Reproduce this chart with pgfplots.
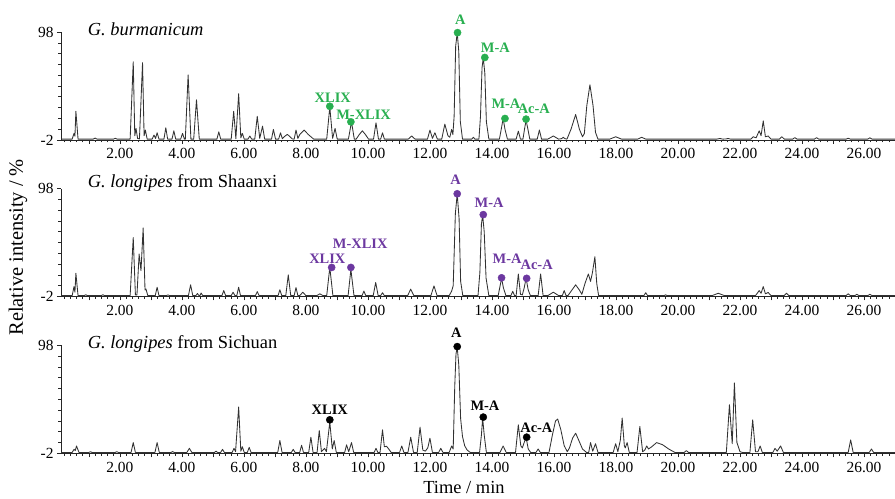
\documentclass[border=0pt]{standalone}
\usepackage{fontspec}
\setmainfont{Liberation Serif}
\usepackage{pgfplots}
\pgfplotsset{compat=1.18}
\definecolor{gcol}{RGB}{40,175,80}
\definecolor{pcol}{RGB}{108,56,160}
\definecolor{lcol}{RGB}{50,50,50}

\pgfplotsset{
  chrom/.style={
    anchor=south west, scale only axis, width=834bp, height=108bp,
    xmin=0.1, xmax=27, ymin=-2, ymax=98,
    axis x line*=bottom, axis y line*=left,
    axis line style={-, black!85, line width=0.8bp},
    tick align=outside,
    major tick length=4bp, minor tick length=2.5bp,
    tick style={black!85, line width=0.6bp},
    ytick={-2,98}, yticklabels={-2,98},
    minor ytick={8,18,28,38,48,58,68,78,88},
    xtick={1,2,3,4,5,6,7,8,9,10,11,12,13,14,15,16,17,18,19,20,21,22,23,24,25,26},
    xticklabels={,2.00,,4.00,,6.00,,8.00,,10.00,,12.00,,14.00,,16.00,,18.00,,20.00,,22.00,,24.00,,26.00},
    minor xtick={0.2,0.4,...,26.9},
    ticklabel style={font=\fontsize{15.5}{15.5}\selectfont},
    xticklabel style={yshift=-1bp},
    clip=false,
  },
  trace/.style={lcol, line width=0.85bp, line join=round},
  lab/.style={only marks, mark=*, mark size=3.6bp, color=#1,
    point meta=explicit symbolic, nodes near coords,
    visualization depends on={value \thisrow{dx}\as\dx},
    visualization depends on={value \thisrow{dy}\as\dy},
    every node near coord/.append style={anchor=south, inner sep=0pt,
      xshift=\dx bp, yshift=\dy bp, text=#1,
      font=\fontsize{14.5}{14.5}\bfseries\selectfont}},
}

\begin{document}
\begin{tikzpicture}

% ---------- Panel 1: G. burmanicum ----------
\begin{axis}[chrom, at={(0bp,313.3bp)}]
\addplot[trace] coordinates {
(0.1,-1.2)
(0.46,-1.2)(0.52,4.1)(0.55,1.5)(0.58,24.6)(0.65,-1.2)
(1.14,-1.2)(1.2,-0.2)(1.26,-1.2)
(1.79,-1.2)(1.85,-0.4)(1.91,-1.2)
(2.33,-1.2)(2.43,70.5)(2.48,2)(2.52,8.7)(2.57,-0.5)(2.63,-1.0)(2.73,69.6)(2.78,2)(2.82,7.2)(2.88,-1.2)
(3.04,-1.2)(3.10,2.6)(3.15,-0.6)(3.20,4.7)(3.26,-1.2)
(3.42,-1.2)(3.48,9.3)(3.54,-1.2)
(3.68,-1.2)(3.74,6.5)(3.80,-1.2)
(3.96,-1.2)(4.02,4.1)(4.08,-1.2)
(4.11,-1.2)(4.20,58.3)(4.29,-1.2)
(4.38,-1.2)(4.47,35.3)(4.56,-1.2)
(5.13,-1.2)(5.19,5.6)(5.25,-1.2)
(5.59,-1.2)(5.67,24.6)(5.74,-0.8)(5.83,40.8)(5.90,0)(5.95,4.1)(6.01,-1.2)
(6.13,-1.2)(6.19,1.7)(6.25,-1.2)
(6.35,-1.2)(6.43,20)(6.51,-0.5)(6.60,10.8)(6.67,-1.2)
(6.89,-1.2)(6.95,7.8)(7.02,-1.2)
(7.12,-1.2)(7.18,4.7)(7.24,-0.8)(7.32,1.5)(7.40,3.2)(7.48,1.2)(7.56,-1.0)
(7.62,-1.2)(7.68,7.2)(7.74,-0.5)(7.80,3)(7.94,7.2)(8.08,3)(8.25,-1.2)
(8.67,-1.2)(8.77,28.6)(8.86,-0.5)(8.94,8.7)(9.01,-1.2)
(9.37,-1.2)(9.47,14.8)(9.56,-1.2)
(9.62,-1.2)(9.72,3)(9.82,6.5)(9.92,3)(10.02,-1.2)
(10.18,-1.2)(10.26,13.9)(10.34,-1.2)
(10.41,-1.2)(10.47,4.7)(10.53,-1.2)
(11.30,-1.2)(11.41,1.7)(11.52,-1.2)
(11.92,-1.2)(12.0,7.2)(12.08,-0.5)(12.16,4.7)(12.24,-1.2)
(12.38,-1.2)(12.48,12.7)(12.58,2)(12.64,0.5)(12.70,7.8)(12.74,3)
(12.78,20)(12.83,85)(12.88,97.4)(12.93,80)(12.98,15)(13.05,-1.2)
(13.35,-1.2)(13.40,0.5)(13.45,-1.2)
(13.58,-1.2)(13.63,20)(13.68,65)(13.72,73.9)(13.77,60)(13.82,15)(13.90,-1.2)
(14.24,-1.2)(14.30,8)(14.36,17.9)(14.42,8)(14.50,-1.2)
(14.78,-1.2)(14.85,6.2)(14.92,-1.2)
(15.00,-1.2)(15.05,8)(15.10,16.3)(15.16,8)(15.22,-1.2)
(15.46,-1.2)(15.53,7.2)(15.60,-1.2)
(15.80,-1.2)(15.98,1.7)(16.15,-1.2)
(16.25,-0.7)(16.30,0.5)(16.35,-0.7)
(16.42,-1.2)(16.55,8)(16.70,21.6)(16.82,8)(16.92,1.0)(16.98,4)(17.06,30)(17.16,49.1)(17.26,30)(17.34,5)(17.42,-1.2)
(17.80,-1.2)(17.99,1.0)(18.18,-1.2)
(18.70,-1.2)(18.83,0.5)(18.96,-1.2)
(21.25,-1.2)(21.35,-0.6)(21.45,-1.2)(21.55,-1.0)(21.62,-0.6)(21.70,-1.2)
(22.35,-1.2)(22.43,1.0)(22.52,0)(22.62,6.5)(22.68,2)(22.75,15.7)(22.82,1)(22.91,1.7)(23.0,-1.2)
(23.27,-1.2)(23.35,1.0)(23.43,-1.2)
(23.70,-1.2)(23.77,0.2)(23.84,-1.2)
(24.40,-1.2)(24.47,0.2)(24.54,-1.2)
(25.42,-1.2)(25.49,-0.4)(25.56,-1.2)
(26.12,-1.2)(26.19,0)(26.26,-1.2)
(27,-1.2)
};
\addplot[lab=gcol] table[x=t, y=v, meta=lab] {
t v dx dy lab
8.77 29.2 3 3.5 XLIX
9.45 14.8 12.7 2.5 M-XLIX
12.89 97.4 2.7 7.5 A
13.77 74.4 10.5 5 M-A
14.42 17.9 1 10 M-A
15.10 17.3 7.8 5.5 Ac-A
};
\node[anchor=base west, font=\fontsize{18.5}{18.5}\selectfont] at (rel axis cs:0.028,0.97) {\textit{G. burmanicum}};
\end{axis}

% ---------- Panel 2: G. longipes from Shaanxi ----------
\begin{axis}[chrom, at={(0bp,156.8bp)}]
\addplot[trace] coordinates {
(0.1,-1.2)
(0.46,-1.2)(0.52,7.2)(0.55,2)(0.58,19.5)(0.65,-1.2)
(0.85,-1.2)(0.9,-0.3)(0.95,-1.2)
(1.4,-1.2)(1.45,-0.3)(1.5,-1.2)
(2.33,-1.2)(2.43,52.6)(2.50,-0.5)(2.55,-0.5)(2.62,37.3)(2.68,22)(2.75,61.5)(2.81,4)(2.84,5)(2.90,-1.2)
(3.14,-1.2)(3.20,6.6)(3.26,-1.2)
(3.5,-1.2)(3.55,-0.5)(3.6,-1.2)
(4.21,-1.2)(4.28,8.8)(4.35,-1.2)
(4.45,-1.2)(4.5,0.8)(4.55,-1.2)(4.58,-1.2)(4.62,1.2)(4.67,-1.2)
(5.29,-1.2)(5.35,3.5)(5.41,-1.2)
(5.59,-1.2)(5.65,2)(5.71,-1.2)(5.77,-1.2)(5.83,6.6)(5.89,-1.2)
(6.37,-1.2)(6.43,2.5)(6.49,-1.2)
(7.10,-1.2)(7.16,4.2)(7.22,-1.2)
(7.35,-1.2)(7.43,18)(7.51,-1.2)
(7.62,-1.2)(7.68,6.3)(7.74,-1.2)
(7.80,-1.2)(7.9,2)(8.0,-1.2)
(8.35,-1.2)(8.45,0.5)(8.55,-1.2)
(8.67,-1.2)(8.77,25)(8.87,-1.2)
(9.36,-1.2)(9.45,23)(9.55,-1.2)
(9.81,-1.2)(9.87,3)(9.93,-1.2)
(10.17,-1.2)(10.25,11)(10.33,-1.2)
(10.41,-1.2)(10.47,1.5)(10.53,-1.2)
(11.28,-1.2)(11.38,4.8)(11.48,-1.2)
(12.03,-1.2)(12.13,7.8)(12.23,-1.2)
(12.62,-1.2)(12.70,3)(12.75,8)(12.82,75)(12.88,93)(12.94,70)(12.99,12)(13.06,-1.2)
(13.55,-1.2)(13.61,20)(13.66,65)(13.70,73.2)(13.75,58)(13.81,15)(13.90,-1.2)
(14.20,-1.2)(14.25,6)(14.31,14.9)(14.37,6)(14.45,-1.2)
(14.61,-1.2)(14.67,2.8)(14.73,-1.2)
(14.78,-1.2)(14.85,18.9)(14.92,0)(14.98,-0.5)(15.04,6)(15.10,14.9)(15.17,4)(15.24,-1.2)
(15.49,-1.2)(15.57,18.9)(15.65,-1.2)
(15.80,-1.2)(15.98,2)(16.15,-1.2)
(16.27,-1.2)(16.33,3.5)(16.39,-1.2)
(16.45,-1.2)(16.58,4)(16.70,8.8)(16.82,4)(16.90,0)(17.00,10)(17.11,18.9)(17.18,12)(17.24,20)(17.32,34.8)(17.38,10)(17.44,-1.2)
(18.90,-1.2)(18.96,1.5)(19.02,-1.2)
(19.55,-1.2)(19.6,-0.5)(19.65,-1.2)
(21.1,-1.2)(21.3,1.0)(21.5,-1.2)
(22.50,-1.2)(22.62,3.5)(22.68,1)(22.75,7.2)(22.82,0.5)(22.91,1.7)(23.0,-1.2)
(23.42,-1.2)(23.5,1.0)(23.58,-1.2)
(25.42,-1.2)(25.49,0.5)(25.56,-1.2)
(25.7,-1.2)(25.77,0)(25.84,-1.2)
(26.12,-1.2)(26.19,0)(26.26,-1.2)
(27,-1.2)
};
\addplot[lab=pcol] table[x=t, y=v, meta=lab] {
t v dx dy lab
8.83 24.9 -4.3 3.3 XLIX
9.45 24.9 9.3 19 M-XLIX
12.88 93.1 -1.6 9.3 A
13.72 73.8 5.8 7 M-A
14.31 15.3 5.5 14.3 M-A
15.12 14.8 10 8.3 Ac-A
};
\node[anchor=base west, font=\fontsize{18.5}{18.5}\selectfont] at (rel axis cs:0.028,1.01) {\textit{G. longipes} from Shaanxi};
\end{axis}

% ---------- Panel 3: G. longipes from Sichuan ----------
\begin{axis}[chrom, at={(0bp,0bp)}]
\addplot[trace] coordinates {
(0.1,-1.2)
(0.46,-1.2)(0.52,1.7)(0.56,0.5)(0.60,4.8)(0.68,-1.2)
(1.0,-1.2)(1.05,-0.5)(1.1,-1.2)
(1.85,-1.2)(1.9,-0.5)(1.95,-1.2)
(2.36,-1.2)(2.43,7.9)(2.50,-1.2)
(3.13,-1.2)(3.20,7.9)(3.27,-1.2)
(3.65,-1.2)(3.7,-0.4)(3.75,-1.2)
(4.16,-1.2)(4.24,2.6)(4.32,-1.2)
(5.05,-1.2)(5.1,0)(5.15,-1.2)
(5.25,-1.2)(5.31,1.7)(5.37,-1.2)
(5.62,-1.2)(5.68,2.6)(5.73,-0.5)(5.83,40.9)(5.90,0)(5.95,4)(6.01,-1.2)
(6.11,-1.2)(6.17,3.5)(6.23,-1.2)
(7.09,-1.2)(7.16,9.8)(7.23,-1.2)
(7.53,-1.2)(7.59,1.7)(7.65,-1.2)
(7.80,-1.2)(7.86,5.5)(7.92,-1.2)
(8.09,-1.2)(8.16,12.9)(8.23,-1.2)
(8.36,-1.2)(8.43,19.1)(8.50,-0.5)(8.60,2.6)(8.66,-0.5)
(8.77,27)(8.85,2)(8.91,9.8)(8.98,-1.2)
(9.25,-1.2)(9.31,5.8)(9.38,-0.5)(9.47,7.9)(9.54,-1.2)
(10.20,-1.2)(10.26,2.6)(10.32,-1.2)
(10.39,-1.2)(10.47,19.7)(10.53,4)(10.60,4.5)(10.67,2)(10.75,-1.2)
(11.02,-1.2)(11.09,4.8)(11.16,-1.2)
(11.29,-1.2)(11.38,12.9)(11.47,-1.2)
(11.59,-1.2)(11.68,22.2)(11.77,1)(11.85,0)(11.93,3)(12.0,12)(12.08,-1.2)
(12.28,-1.2)(12.35,2.6)(12.42,-1.2)
(12.62,-1.2)(12.70,4.8)(12.75,2)(12.80,60)(12.84,90)(12.88,96)(12.93,80)(12.99,30)(13.05,13.5)(13.12,5)(13.20,1)(13.30,-1.2)
(13.60,-1.2)(13.66,15)(13.70,30.6)(13.75,15)(13.82,-1.2)
(14.26,-1.2)(14.36,4.8)(14.46,-1.2)
(14.76,-1.2)(14.85,24.4)(14.93,5)(14.98,3)(15.04,8)(15.10,12.9)(15.17,2)(15.25,-1.2)
(15.42,-1.2)(15.49,2)(15.56,-1.2)
(15.84,-1.2)(15.95,15)(16.05,28)(16.12,29.7)(16.22,20)(16.33,5)(16.43,-0.5)
(16.50,3)(16.60,12)(16.70,16.6)(16.80,10)(16.92,2)(17.05,-1.2)
(17.12,-1.2)(17.18,7.9)(17.25,0)(17.34,6.9)(17.42,-1.2)
(17.91,-1.2)(17.99,6.9)(18.06,-0.5)(18.14,10)(18.20,30.6)(18.27,5)(18.30,3)(18.36,7.9)(18.43,-1.2)
(18.68,-1.2)(18.77,22.8)(18.86,-0.5)(18.93,1)(18.99,4.8)(19.05,2)(19.15,4)(19.31,7.9)(19.50,6)(19.70,2)(19.90,-1.2)
(20.20,-1.2)(20.27,0.5)(20.34,-1.2)
(21.56,-1.2)(21.66,43)(21.75,6.9)(21.82,63.2)(21.90,8)(22.0,-0.5)(22.08,-1.2)
(22.32,-1.2)(22.41,29)(22.50,-0.5)(22.58,-0.5)(22.65,4.8)(22.72,-1.2)
(23.06,-1.2)(23.13,2.6)(23.20,0)(23.31,4.8)(23.40,-1.2)
(25.49,-1.2)(25.57,10.4)(25.65,-1.2)
(26.17,-1.2)(26.24,2)(26.31,-1.2)
(27,-1.2)
};
\addplot[lab=black] table[x=t, y=v, meta=lab] {
t v dx dy lab
8.77 29.0 0 5 XLIX
12.88 96.8 -1 9 A
13.72 31.5 1.7 6.6 M-A
15.12 12.9 9.7 4 Ac-A
};
\node[anchor=base west, font=\fontsize{18.5}{18.5}\selectfont] at (rel axis cs:0.028,0.97) {\textit{G. longipes} from Sichuan};
\end{axis}

\node[rotate=90, font=\fontsize{20.5}{20.5}\selectfont] at (-43bp,206bp) {Relative intensity / \%};
\node[anchor=base, font=\fontsize{18.5}{18.5}\selectfont] at (403bp,-40bp) {Time / min};

\pgfresetboundingbox
\path[use as bounding box] (-61bp,-45.7bp) rectangle (834bp,453.3bp);
\end{tikzpicture}
\end{document}
